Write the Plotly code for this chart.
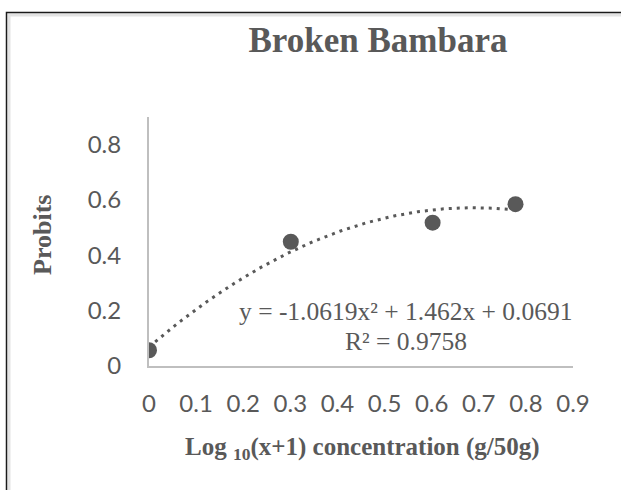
import numpy as np
import plotly.graph_objects as go

# Data
x_vals = [0.0, 0.301, 0.602, 0.778]
y_vals = [0.057, 0.449, 0.518, 0.585]
coef = [-1.0619, 1.462, 0.0691]  # quadratic trendline a, b, c
r2 = 0.9758
x_ticks = [0, 0.1, 0.2, 0.3, 0.4, 0.5, 0.6, 0.7, 0.8, 0.9]
y_ticks = [0, 0.2, 0.4, 0.6, 0.8]

W, H = 621, 490
L, R, T, B = 149, 48, 117, 124
pw, ph = W - L - R, H - T - B

def px_x(p):
    return (p - L) / pw

def px_y(p):
    return 1 - (p - T) / ph

grey = "#595959"
serif = "Liberation Serif"
sans = "Lato"

xt = np.linspace(min(x_vals), max(x_vals), 200)
yt = coef[0] * xt**2 + coef[1] * xt + coef[2]

fig = go.Figure()
fig.add_trace(go.Scatter(x=xt, y=yt, mode="lines",
                         line=dict(color=grey, width=3, dash="3px,5px"),
                         hoverinfo="skip", showlegend=False))
fig.add_trace(go.Scatter(x=x_vals, y=y_vals, mode="markers",
                         marker=dict(color=grey, size=16),
                         showlegend=False))

fig.update_layout(
    width=W, height=H,
    margin=dict(l=L, r=R, t=T, b=B, pad=0),
    paper_bgcolor="white", plot_bgcolor="white",
    title=dict(text="<b>Broken Bambara</b>", x=378 / W, xanchor="center",
               y=1 - 40 / H, yanchor="middle",
               font=dict(family=serif, size=35, color=grey)),
    xaxis=dict(range=[0, 0.9], tickvals=x_ticks, ticktext=[f"{v:g}" for v in x_ticks],
               showgrid=False, zeroline=False, showline=True, linecolor="#bfbfbf",
               linewidth=2, ticks="", ticklabelstandoff=15,
               tickfont=dict(family=sans, size=24, color=grey)),
    yaxis=dict(range=[0, 0.9], tickvals=y_ticks, ticktext=[f"{v:g}" for v in y_ticks],
               showgrid=False, zeroline=False, showline=True, linecolor="#bfbfbf",
               linewidth=2, ticks="", ticklabelstandoff=21,
               tickfont=dict(family=sans, size=24, color=grey)),
    annotations=[
        dict(text=f"y = {coef[0]}x² + {coef[1]}x + {coef[2]}",
             xref="paper", yref="paper", x=px_x(405), y=px_y(311),
             xanchor="center", yanchor="middle", showarrow=False,
             font=dict(family=serif, size=25.5, color=grey)),
        dict(text=f"R² = {r2}",
             xref="paper", yref="paper", x=px_x(406), y=px_y(341),
             xanchor="center", yanchor="middle", showarrow=False,
             font=dict(family=serif, size=25.5, color=grey)),
        dict(text="<b>Log <sub>10</sub>(x+1) concentration (g/50g)</b>",
             xref="paper", yref="paper", x=px_x(362), y=px_y(448),
             xanchor="center", yanchor="middle", showarrow=False,
             font=dict(family=serif, size=25, color=grey)),
        dict(text="<b>Probits</b>", textangle=-90,
             xref="paper", yref="paper", x=px_x(42), y=px_y(235),
             xanchor="center", yanchor="middle", showarrow=False,
             font=dict(family=serif, size=26, color=grey)),
    ],
    shapes=[
        dict(type="rect", xref="paper", yref="paper",
             x0=px_x(9), x1=px_x(800), y0=px_y(800), y1=px_y(15),
             line=dict(color="#e3e3e3", width=3), layer="below"),
        dict(type="rect", xref="paper", yref="paper",
             x0=px_x(6.5), x1=px_x(800), y0=px_y(800), y1=px_y(12.5),
             line=dict(color="#1a1a1a", width=1.5), layer="below"),
    ],
)

fig.write_html("out.html", config={"displayModeBar": False})
